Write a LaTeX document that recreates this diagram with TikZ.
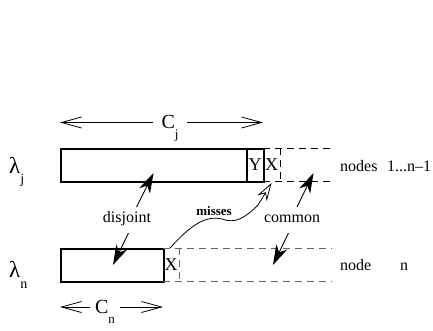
\documentclass[tikz,border=0pt]{standalone}
\usepackage{fontspec}
\setmainfont{Liberation Serif}
\usetikzlibrary{arrows.meta}
\tikzset{
  box/.style={draw, line width=2pt, inner sep=0pt, anchor=north west},
  cell/.style={inner sep=0pt, font=\fontsize{18}{18}\selectfont},
  dashln/.style={draw, line width=0.9pt, dash pattern=on 7pt off 5pt},
  dimarr/.style={line width=0.8pt, -{Straight Barb[length=20pt,width=11pt]}},
  lbl/.style={inner sep=0pt, font=\fontsize{16}{16}\selectfont},
  big/.style={inner sep=0pt, font=\fontsize{20}{20}\selectfont},
  lam/.style={inner sep=0pt, font=\fontsize{23}{23}\selectfont},
  solidarr/.style={line width=0.9pt, -{Stealth[length=20pt,width=12pt,inset=6pt]}},
  openarr/.style={line width=0.8pt, -{Stealth[open,length=18pt,width=11pt,inset=6pt]}},
}
\newcommand{\sbs}[1]{\raisebox{-0.5em}{\fontsize{13}{13}\selectfont #1}}
\newcommand{\lsb}[1]{\raisebox{-0.45em}{\fontsize{14}{14}\selectfont #1}}
\begin{document}
\begin{tikzpicture}[x=1pt,y=-1pt]
\useasboundingbox (0,0) rectangle (433,330);
% top row
\node[box, minimum width=203pt, minimum height=33pt] (bj) at (60,148) {};
\draw[line width=1.1pt] (247,148) -- (247,181);
\node[cell] (yc) at (255,165) {Y};
\node[cell] (xj) at (271.5,165) {X};
\draw[dashln] (263,148) -- (332,148);
\draw[dashln] (263,181) -- (332,181);
\draw[dashln] (280,148) -- (280,181);
\node[lbl, anchor=west] (nj) at (340,166) {nodes\hspace{0.6em}1...n\textendash1};
% bottom row
\node[box, minimum width=103pt, minimum height=33pt] (bn) at (60,248) {};
\node[cell] (xn) at (171,265) {X};
\draw[dashln, draw=gray!80!black] (163,248) -- (332,248);
\draw[dashln, draw=gray!80!black] (163,281) -- (332,281);
\draw[dashln, draw=gray!80!black] (179.5,248) -- (179.5,281);
\node[lbl, anchor=west] (nn) at (340,265) {node\hspace{1.8em}n};
% lambdas
\node[lam, anchor=west] (lj) at (9,172) {λ\lsb{j}};
\node[lam, anchor=west] (ln) at (9,275) {λ\lsb{n}};
% dimensions
\coordinate (cjL) at (60,122.5);
\coordinate (cjR) at (263,122.5);
\node[big, inner xsep=8pt] (cj) at (170,128) {C\sbs{j}};
\draw[dimarr] (cj.west |- cjL) -- (cjL);
\draw[dimarr] (cj.east |- cjR) -- (cjR);
\coordinate (cnL) at (60,307);
\coordinate (cnR) at (163,307);
\node[big, inner xsep=5pt] (cn) at (105,312) {C\sbs{n}};
\draw[dimarr] (cn.west |- cnL) -- (cnL);
\draw[dimarr] (cn.east |- cnR) -- (cnR);
% labels and arrows
\node[lbl] (dis) at (127,219) {disjoint};
\coordinate (disT) at (153.5,173);
\coordinate (disB) at (113,265);
\draw[solidarr] (136.5,207) -- (disT);
\draw[solidarr] (128.5,233) -- (disB);
\node[lbl] (com) at (292,219) {common};
\coordinate (comT) at (313.5,173);
\coordinate (comB) at (273,265);
\draw[solidarr] (297,207) -- (comT);
\draw[solidarr] (288.5,233) -- (comB);
\node[inner sep=0pt, font=\fontsize{13}{13}\bfseries\selectfont] (mis) at (214,211) {misses};
\coordinate (misS) at (170,248);
\coordinate (misT) at (271.5,183);
\draw[openarr] (misS) .. controls (190,226) and (205,215) .. (222,219)
  .. controls (235,224) and (245,218) .. (258,205) -- (misT);
\end{tikzpicture}
\end{document}
